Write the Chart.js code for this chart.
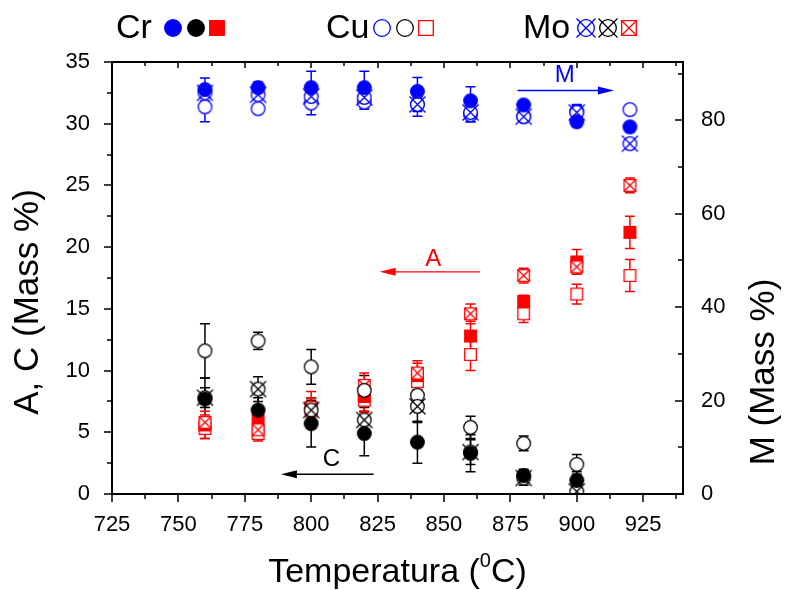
<!DOCTYPE html>
<html>
<head>
<meta charset="utf-8">
<script src="https://cdn.jsdelivr.net/npm/chart.js@4.4.1/dist/chart.umd.min.js"></script>
<style>
    html, body { margin: 0; padding: 0; background: #fff; }
</style>
</head>
<body>
<canvas id="chart" width="787" height="590"></canvas>
<script>
// temperatures (x)
const temps = [760, 780, 800, 820, 840, 860, 880, 900, 920];
const tempsC = [760, 780, 800, 820, 840, 860, 880, 900];

// M (right axis, blue)
const mCr    = [86.6, 87.0, 87.0, 87.0, 86.2, 84.2, 83.3, 79.7, 78.6];
const mCrErr = [2.5, 1.2, 3.5, 3.5, 3.0, 3.0, 0.8, 1.0, 0.8];
const mCu    = [82.9, 82.5, 83.7, 83.9, 83.4, 81.2, 80.8, 81.9, 82.3];
const mCuErr = [3.2, 0.8, 2.5, 1.5, 1.5, 1.5, 1.0, 1.5, 0.5];
const mMo    = [85.9, 85.5, 85.1, 84.9, 83.4, 81.7, 80.8, 81.7, 75.0];
const mMoErr = [1.0, 1.0, 2.0, 2.0, 2.5, 2.0, 1.0, 1.5, 1.0];

// A (left axis, red)
const aCr    = [5.6, 6.0, 7.0, 7.9, 9.6, 12.8, 15.6, 18.8, 21.2];
const aCrErr = [1.1, 0.8, 1.3, 1.2, 1.2, 1.2, 0.5, 1.0, 1.3];
const aCu    = [5.3, 4.9, 6.8, 7.6, 9.1, 11.3, 14.6, 16.2, 17.7];
const aCuErr = [0.8, 0.6, 1.0, 1.0, 0.8, 1.3, 0.7, 0.8, 1.3];
const aMo    = [5.8, 5.2, 7.0, 8.8, 9.8, 14.6, 17.7, 18.4, 25.0];
const aMoErr = [0.6, 0.6, 0.8, 1.0, 0.8, 0.8, 0.6, 0.6, 0.6];

// C (left axis, black)
const cCr    = [7.7, 6.8, 5.7, 4.9, 4.2, 3.3, 1.5, 1.1];
const cCrErr = [1.7, 1.0, 1.9, 1.8, 1.7, 1.5, 0.5, 0.7];
const cCu    = [11.6, 12.4, 10.3, 8.4, 8.0, 5.4, 4.1, 2.4];
const cCuErr = [2.2, 0.7, 1.4, 1.2, 1.0, 0.9, 0.6, 0.8];
const cMo    = [7.8, 8.5, 6.8, 6.0, 7.1, 3.4, 1.3, 0.2];
const cMoErr = [0.8, 1.0, 1.0, 1.0, 1.3, 1.0, 0.6, 0.5];

// tick labels
const xTicks = [725, 750, 775, 800, 825, 850, 875, 900, 925];
const yTicks = [0, 5, 10, 15, 20, 25, 30, 35];
const y2Ticks = [0, 20, 40, 60, 80];

const BLUE = '#0000ff', RED = '#ff0000', BLACK = '#000000';
const FONT = '"Liberation Sans", Arial, sans-serif';

// marker images (circle / square, solid / open / crossed)
function makeMarker(shape, fill, color, size) {
    const pad = 3;
    const c = document.createElement('canvas');
    c.width = c.height = size + pad * 2;
    const ctx = c.getContext('2d');
    const m = c.width / 2, r = size / 2;
    ctx.strokeStyle = color;
    ctx.fillStyle = fill === 'solid' ? color : '#ffffff';
    ctx.lineWidth = 1.3;
    ctx.beginPath();
    if (shape === 'circle') ctx.arc(m, m, r - 0.7, 0, Math.PI * 2);
    else ctx.rect(m - r + 0.7, m - r + 0.7, size - 1.4, size - 1.4);
    ctx.fill();
    ctx.stroke();
    if (fill === 'cross') {
        const k = shape === 'circle' ? r + 0.5 : r - 0.7;
        ctx.beginPath();
        ctx.moveTo(m - k, m - k); ctx.lineTo(m + k, m + k);
        ctx.moveTo(m + k, m - k); ctx.lineTo(m - k, m + k);
        ctx.stroke();
    }
    return c;
}

const mk = {};
[['blue', BLUE, 'circle'], ['black', BLACK, 'circle'], ['red', RED, 'rect']].forEach(([name, col, shape]) => {
    const sz = shape === 'circle' ? 15 : 13;
    ['solid', 'open', 'cross'].forEach(f => {
        mk[name + '_' + f] = makeMarker(shape, f, col, sz);
        mk[name + '_' + f + '_big'] = makeMarker(shape, f, col, shape === 'circle' ? 18 : 16);
    });
});

function pts(xs, ys) { return xs.map((x, i) => ({ x: x, y: ys[i] })); }

function ds(label, xs, ys, errs, color, marker, axis, order) {
    return {
        label: label,
        data: pts(xs, ys),
        errors: errs,
        yAxisID: axis,
        borderColor: color,
        backgroundColor: color,
        pointStyle: mk[marker],
        pointRadius: 7,
        showLine: false,
        order: order
    };
}

// error bars, drawn under the markers
const errorBars = {
    id: 'errorBars',
    beforeDatasetsDraw(chart) {
        const ctx = chart.ctx, area = chart.chartArea, xs = chart.scales.x;
        ctx.save();
        ctx.beginPath();
        ctx.rect(area.left, area.top, area.right - area.left, area.bottom - area.top);
        ctx.clip();
        ctx.lineWidth = 1.5;
        chart.data.datasets.forEach(d => {
            const ys = chart.scales[d.yAxisID];
            ctx.strokeStyle = d.borderColor;
            d.data.forEach((p, j) => {
                const e = d.errors[j];
                const x = xs.getPixelForValue(p.x);
                const y1 = ys.getPixelForValue(p.y + e), y2 = ys.getPixelForValue(p.y - e);
                ctx.beginPath();
                ctx.moveTo(x, y1); ctx.lineTo(x, y2);
                ctx.moveTo(x - 5, y1); ctx.lineTo(x + 5, y1);
                ctx.moveTo(x - 5, y2); ctx.lineTo(x + 5, y2);
                ctx.stroke();
            });
        });
        ctx.restore();
    }
};

// arrows with labels, in data units
const arrows = [
    { from: 877.7, to: 914, y: 86.4, axis: 'y2', color: BLUE, text: 'M', tx: 895.5, dy: -15 },
    { from: 863.6, to: 825.8, y: 18.0, axis: 'y', color: RED, text: 'A', tx: 846, dy: -12 },
    { from: 823.5, to: 788.6, y: 1.6, axis: 'y', color: BLACK, text: 'C', tx: 807.6, dy: -15 }
];

// frame, ticks, titles, legend, arrows
const decorations = {
    id: 'decorations',
    afterDraw(chart) {
        const ctx = chart.ctx, a = chart.chartArea;
        const xs = chart.scales.x, ys = chart.scales.y, y2 = chart.scales.y2;
        ctx.save();
        ctx.strokeStyle = '#000';
        ctx.lineWidth = 2;
        ctx.strokeRect(a.left, a.top, a.right - a.left, a.bottom - a.top);

        ctx.lineWidth = 1.5;
        ctx.beginPath();
        // x ticks: outward at bottom, inward at top
        for (let v = 725; v <= 940; v += 12.5) {
            const x = Math.round(xs.getPixelForValue(v));
            const major = (v - 725) % 25 === 0;
            ctx.moveTo(x, a.bottom); ctx.lineTo(x, a.bottom + (major ? 8 : 5));
            ctx.moveTo(x, a.top); ctx.lineTo(x, a.top + (major ? 6 : 4));
        }
        // left ticks outward
        for (let v = 0; v <= 35; v += 2.5) {
            const y = Math.round(ys.getPixelForValue(v));
            ctx.moveTo(a.left, y); ctx.lineTo(a.left - (v % 5 === 0 ? 8 : 5), y);
        }
        // right ticks inward
        for (let v = 0; v <= 90; v += 10) {
            const y = Math.round(y2.getPixelForValue(v));
            ctx.moveTo(a.right, y); ctx.lineTo(a.right - (v % 20 === 0 ? 8 : 5), y);
        }
        ctx.stroke();

        // arrows
        arrows.forEach(ar => {
            const sy = chart.scales[ar.axis];
            const x1 = xs.getPixelForValue(ar.from), x2 = xs.getPixelForValue(ar.to);
            const y = sy.getPixelForValue(ar.y);
            const dir = x2 > x1 ? 1 : -1;
            ctx.strokeStyle = ar.color; ctx.fillStyle = ar.color;
            ctx.lineWidth = 1.3;
            ctx.beginPath(); ctx.moveTo(x1, y); ctx.lineTo(x2 - dir * 10, y); ctx.stroke();
            ctx.beginPath();
            ctx.moveTo(x2, y); ctx.lineTo(x2 - dir * 16, y - 4); ctx.lineTo(x2 - dir * 16, y + 4);
            ctx.closePath(); ctx.fill();
            ctx.font = '24px ' + FONT;
            ctx.textAlign = 'center'; ctx.textBaseline = 'middle';
            ctx.fillText(ar.text, xs.getPixelForValue(ar.tx), y + ar.dy);
        });

        // axis titles
        ctx.fillStyle = '#000';
        ctx.font = '35px ' + FONT;
        ctx.textBaseline = 'middle';
        ctx.textAlign = 'center';
        ctx.save(); ctx.translate(28, 302); ctx.rotate(-Math.PI / 2);
        ctx.fillText('A, C (Mass %)', 0, 0); ctx.restore();
        ctx.save(); ctx.translate(764, 372); ctx.rotate(-Math.PI / 2);
        ctx.fillText('M (Mass %)', 0, 0); ctx.restore();

        // x title with superscript 0
        const p1 = 'Temperatura (', p3 = 'C)';
        ctx.font = '34px ' + FONT;
        const w1 = ctx.measureText(p1).width, w3 = ctx.measureText(p3).width;
        ctx.font = '20px ' + FONT;
        const w2 = ctx.measureText('0').width;
        let x0 = (a.left + a.right) / 2 - (w1 + w2 + w3) / 2;
        ctx.textAlign = 'left';
        ctx.font = '34px ' + FONT;
        ctx.fillText(p1, x0, 573);
        ctx.font = '20px ' + FONT;
        ctx.fillText('0', x0 + w1, 561);
        ctx.font = '34px ' + FONT;
        ctx.fillText(p3, x0 + w1 + w2, 573);

        // legend at top
        const groups = [
            { text: 'Cr', x: 116, marks: [['blue_solid_big', 173], ['black_solid_big', 196], ['red_solid_big', 217]] },
            { text: 'Cu', x: 326, marks: [['blue_open_big', 382], ['black_open_big', 405], ['red_open_big', 426]] },
            { text: 'Mo', x: 523, marks: [['blue_cross_big', 586], ['black_cross_big', 608], ['red_cross_big', 629]] }
        ];
        ctx.font = '34px ' + FONT;
        groups.forEach(g => {
            ctx.fillStyle = '#000';
            ctx.fillText(g.text, g.x, 29);
            g.marks.forEach(([name, x]) => {
                const img = mk[name];
                ctx.drawImage(img, x - img.width / 2, 28 - img.height / 2);
            });
        });
        ctx.restore();
    }
};

const tickFont = { family: FONT, size: 22 };

new Chart(document.getElementById('chart'), {
    type: 'scatter',
    data: {
        datasets: [
            ds('M Cr', temps, mCr, mCrErr, BLUE, 'blue_solid', 'y2', 1),
            ds('M Mo', temps, mMo, mMoErr, BLUE, 'blue_cross', 'y2', 2),
            ds('M Cu', temps, mCu, mCuErr, BLUE, 'blue_open', 'y2', 3),
            ds('C Cr', tempsC, cCr, cCrErr, BLACK, 'black_solid', 'y', 4),
            ds('C Mo', tempsC, cMo, cMoErr, BLACK, 'black_cross', 'y', 5),
            ds('C Cu', tempsC, cCu, cCuErr, BLACK, 'black_open', 'y', 6),
            ds('A Mo', temps, aMo, aMoErr, RED, 'red_cross', 'y', 7),
            ds('A Cr', temps, aCr, aCrErr, RED, 'red_solid', 'y', 8),
            ds('A Cu', temps, aCu, aCuErr, RED, 'red_open', 'y', 9)
        ]
    },
    options: {
        responsive: false,
        animation: false,
        events: [],
        layout: { padding: { top: 62, left: 0, right: 0, bottom: 0 } },
        plugins: { legend: { display: false }, tooltip: { enabled: false } },
        scales: {
            x: {
                type: 'linear', min: 725, max: 940,
                grid: { display: false }, border: { display: false },
                afterBuildTicks: s => { s.ticks = xTicks.map(v => ({ value: v })); },
                afterFit: s => { s.height = 96; },
                ticks: { font: tickFont, color: '#000', padding: 10, maxRotation: 0 }
            },
            y: {
                type: 'linear', position: 'left', min: 0, max: 35,
                grid: { display: false }, border: { display: false },
                afterBuildTicks: s => { s.ticks = yTicks.map(v => ({ value: v })); },
                afterFit: s => { s.width = 112; },
                ticks: { font: tickFont, color: '#000', padding: 14 }
            },
            y2: {
                type: 'linear', position: 'right', min: 0, max: 92.5,
                grid: { display: false }, border: { display: false },
                afterBuildTicks: s => { s.ticks = y2Ticks.map(v => ({ value: v })); },
                afterFit: s => { s.width = 104; },
                ticks: { font: tickFont, color: '#000', padding: 10 }
            }
        }
    },
    plugins: [errorBars, decorations]
});
</script>
</body>
</html>
